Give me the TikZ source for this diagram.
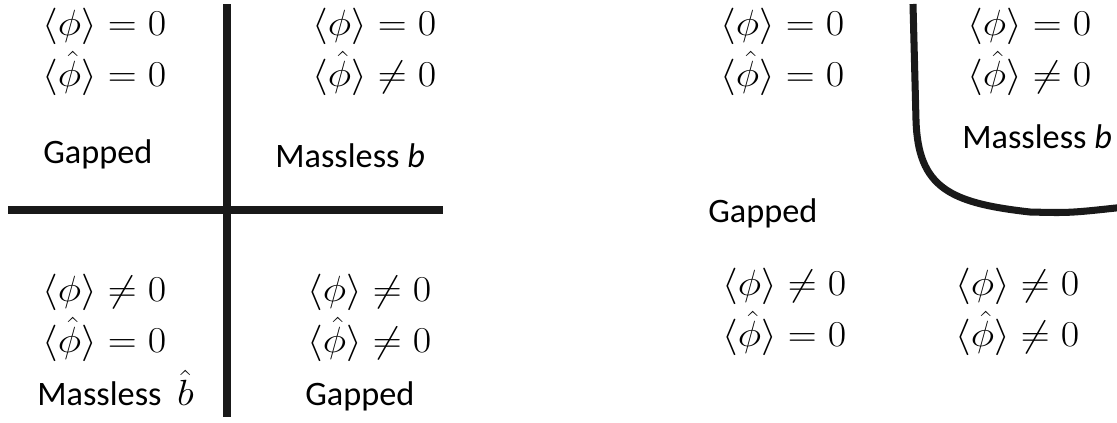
\documentclass[tikz,border=0pt]{standalone}
\usepackage{fontspec}
\newfontfamily\calibri{Carlito}
\usetikzlibrary{positioning}

\newcommand{\vev}[1]{\scalebox{1.1}[1]{$#1$}}

\begin{document}
\begin{tikzpicture}[x=0.02cm, y=-0.02cm,
  wall/.style={line width=4pt, black!90},
  vevs/.style={inner sep=0pt, anchor=west, align=left, font=\fontsize{19.5}{29}\selectfont},
  phase/.style={inner sep=0pt, anchor=base west, font=\calibri\fontsize{19.5}{22}\selectfont}]
  \useasboundingbox (0,0) rectangle (1117,423);

  % --- Left: four quadrants ---
  \draw[wall] (227,4) -- (227,417);
  \draw[wall] (8,210) -- (443,210);

  \node[vevs] (tl) at (42,52) {\vev{\langle\phi\rangle = 0}\\ \vev{\langle\hat\phi\rangle = 0}};
  \node[phase] (tlp) at (43,163) {Gapped};
  \node[vevs] (tr) at (312,52) {\vev{\langle\phi\rangle = 0}\\ \vev{\langle\hat\phi\rangle \neq 0}};
  \node[phase] (trp) at (275,167) {Massless \textit{b}};
  \node[vevs] (bl) at (42,318) {\vev{\langle\phi\rangle \neq 0}\\ \vev{\langle\hat\phi\rangle = 0}};
  \node[phase] (blp) at (37,405) {Massless\ \ \vev{\hat b}};
  \node[vevs] (br) at (307,318) {\vev{\langle\phi\rangle \neq 0}\\ \vev{\langle\hat\phi\rangle \neq 0}};
  \node[phase] (brp) at (305,405) {Gapped};

  % --- Right: curved phase boundary ---
  \draw[wall] (913,4) -- (916,120) .. controls (918,188) and (950,203) .. (1030,212)
    .. controls (1070,213) .. (1125,207);

  \node[vevs] (rtl) at (720,52) {\vev{\langle\phi\rangle = 0}\\ \vev{\langle\hat\phi\rangle = 0}};
  \node[vevs] (rtr) at (967,52) {\vev{\langle\phi\rangle = 0}\\ \vev{\langle\hat\phi\rangle \neq 0}};
  \node[phase] (rtrp) at (962,148) {Massless \textit{b}};
  \node[phase] (rgp) at (708,222) {Gapped};
  \node[vevs] (rbl) at (722,312) {\vev{\langle\phi\rangle \neq 0}\\ \vev{\langle\hat\phi\rangle = 0}};
  \node[vevs] (rbr) at (955,312) {\vev{\langle\phi\rangle \neq 0}\\ \vev{\langle\hat\phi\rangle \neq 0}};
\end{tikzpicture}
\end{document}
